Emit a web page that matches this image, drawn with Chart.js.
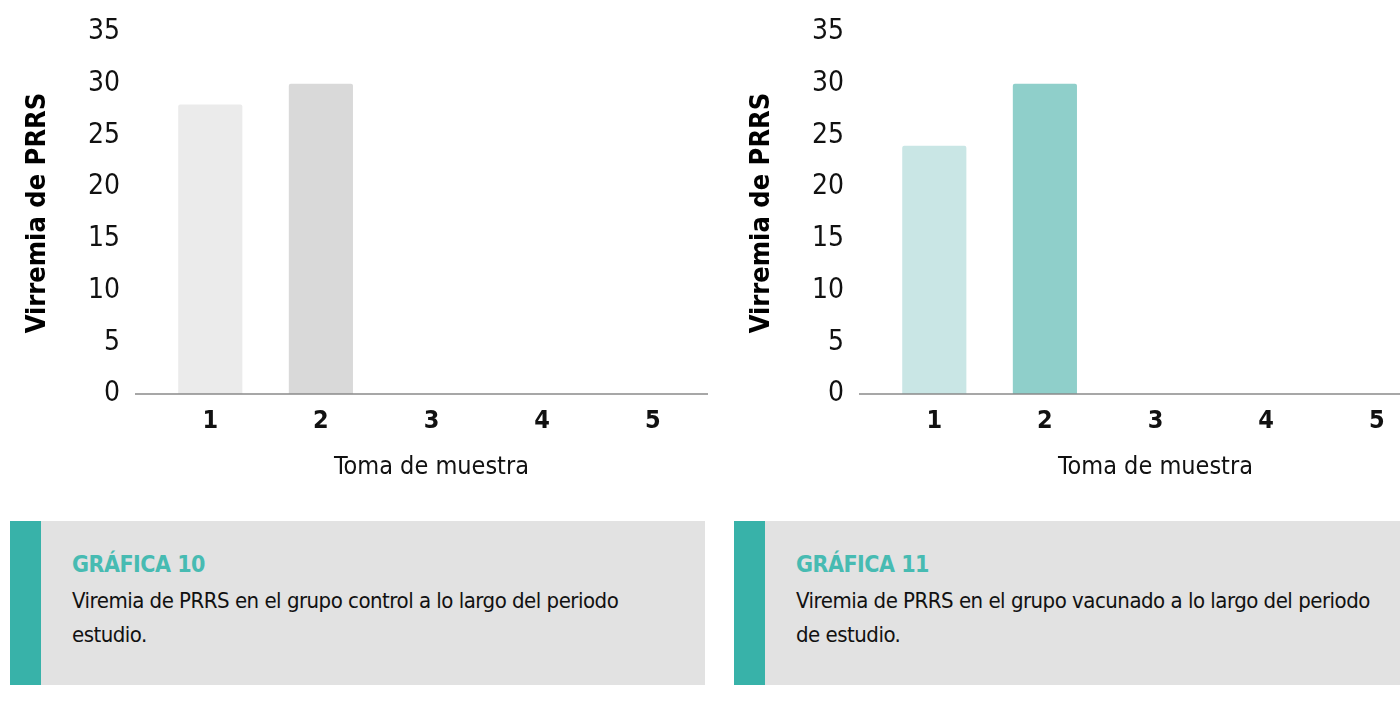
<!DOCTYPE html>
<html>
<head>
<meta charset="utf-8">
<script src="https://cdn.jsdelivr.net/npm/chart.js@4"></script>
<style>
    body { margin: 0; width: 1400px; height: 709px; overflow: hidden; background: #fff;
           font-family: "Liberation Sans Narrow", "DejaVu Sans Condensed", sans-serif; position: relative; }
    .chart { position: absolute; top: 0; width: 720px; height: 500px; }
    .caption { position: absolute; top: 521px; height: 164px; background: #e2e2e2; }
    .caption .strip { position: absolute; left: 0; top: 0; bottom: 0; width: 31px; background: #38b2a9; }
    .caption .title { position: absolute; left: 62px; top: 30px; font-size: 23px; font-weight: bold; color: #47bbb2; letter-spacing: -0.5px; }
    .caption .text { position: absolute; left: 62px; top: 63px; font-size: 22px; line-height: 34px; color: #111; letter-spacing: -0.5px; white-space: nowrap; }
</style>
</head>
<body>
<div class="chart" style="left:0"><canvas id="chart-control"></canvas></div>
<div class="chart" style="left:724px"><canvas id="chart-vacunado"></canvas></div>

<div class="caption" style="left:10px; width:695px">
    <div class="strip"></div>
    <div class="title">GRÁFICA 10</div>
    <div class="text">Viremia de PRRS en el grupo control a lo largo del periodo<br>estudio.</div>
</div>
<div class="caption" style="left:734px; width:666px">
    <div class="strip"></div>
    <div class="title">GRÁFICA 11</div>
    <div class="text">Viremia de PRRS en el grupo vacunado a lo largo del periodo<br>de estudio.</div>
</div>

<script>
var tomas = ['1', '2', '3', '4', '5'];
var controlValues = [28, 30, 0, 0, 0];
var vacunadoValues = [24, 30, 0, 0, 0];
var controlColors = ['#ebebeb', '#d9d9d9', '#d9d9d9', '#d9d9d9', '#d9d9d9'];
var vacunadoColors = ['#c9e6e5', '#8fcfca', '#8fcfca', '#8fcfca', '#8fcfca'];
var yTicks = [0, 5, 10, 15, 20, 25, 30, 35];

var fontName = '"Liberation Sans Narrow", "DejaVu Sans Condensed", sans-serif';

// baseline that runs a bit left of the first bar, like the original
var baseline = {
    id: 'baseline',
    afterDatasetsDraw: function(chart) {
        var ctx = chart.ctx;
        var y = chart.scales.y.getPixelForValue(0);
        ctx.save();
        ctx.strokeStyle = '#8a8a8a';
        ctx.lineWidth = 1.5;
        ctx.beginPath();
        ctx.moveTo(chart.chartArea.left - 20, y);
        ctx.lineTo(chart.chartArea.right, y);
        ctx.stroke();
        ctx.restore();
    }
};

function makeChart(id, values, colors) {
    new Chart(document.getElementById(id), {
        type: 'bar',
        data: {
            labels: tomas,
            datasets: [{
                data: values,
                backgroundColor: colors,
                barPercentage: 0.58,
                categoryPercentage: 1,
                borderRadius: 2
            }]
        },
        options: {
            responsive: true,
            maintainAspectRatio: false,
            animation: false,
            layout: { padding: { top: 32, right: 12, left: 0, bottom: 0 } },
            plugins: {
                legend: { display: false },
                tooltip: { enabled: false }
            },
            scales: {
                x: {
                    grid: { display: false, drawTicks: false },
                    border: { display: false },
                    ticks: {
                        color: '#111',
                        font: { family: fontName, size: 25, weight: 'bold' },
                        padding: 12
                    },
                    title: {
                        display: true,
                        text: 'Toma de muestra',
                        color: '#111',
                        font: { family: fontName, size: 25 },
                        padding: { top: 12, bottom: 18 }
                    },
                    afterFit: function(scale) { scale.height = 106; }
                },
                y: {
                    min: 0,
                    max: 35,
                    grid: { display: false, drawTicks: false },
                    border: { display: false },
                    afterBuildTicks: function(scale) {
                        scale.ticks = yTicks.map(function(v) { return { value: v }; });
                    },
                    ticks: {
                        color: '#111',
                        font: { family: fontName, size: 28 },
                        padding: 35
                    },
                    title: {
                        display: true,
                        text: 'Virremia de PRRS',
                        color: '#000',
                        font: { family: fontName, size: 27, weight: 'bold' },
                        padding: { top: 22, bottom: 0 }
                    },
                    afterFit: function(scale) {
                        scale.width = 155;
                        scale.paddingTop = 0;
                        scale.paddingBottom = 0;
                    }
                }
            }
        },
        plugins: [baseline]
    });
}

makeChart('chart-control', controlValues, controlColors);
makeChart('chart-vacunado', vacunadoValues, vacunadoColors);
</script>
</body>
</html>
